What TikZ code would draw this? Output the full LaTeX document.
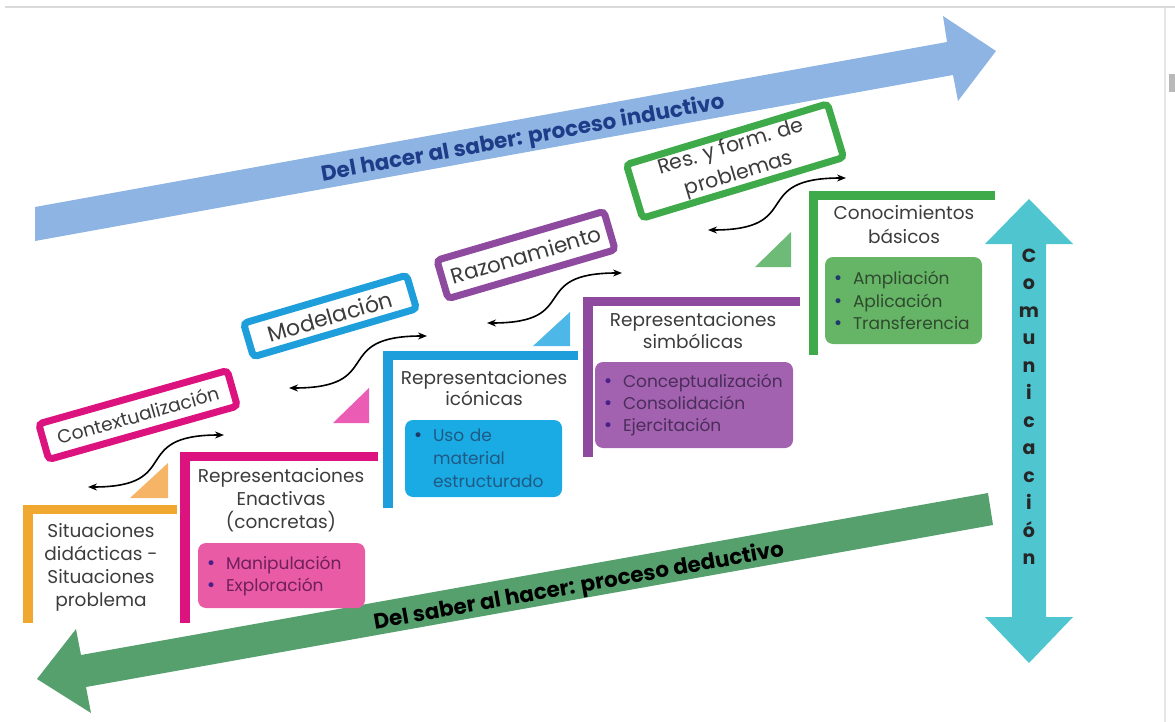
\documentclass[tikz,border=0pt]{standalone}
\usepackage{fontspec}
\setmainfont{Poppins}
\newfontfamily\dejavu{DejaVu Sans}
\usetikzlibrary{arrows.meta}
\definecolor{bluearrow}{HTML}{8EB4E3}
\definecolor{bluetext}{HTML}{1F3C88}
\definecolor{greenarrow}{HTML}{56A06E}
\definecolor{cyanarrow}{HTML}{4FC6CF}
\definecolor{orangestep}{HTML}{F0A830}
\definecolor{orangetri}{HTML}{F5B466}
\definecolor{magstep}{HTML}{DC137F}
\definecolor{pinktri}{HTML}{EB5CB4}
\definecolor{pinkbox}{HTML}{E95BA5}
\definecolor{bluestep}{HTML}{1E9FDC}
\definecolor{bluetri}{HTML}{4DB8E8}
\definecolor{bluebox}{HTML}{1AABE4}
\definecolor{purplestep}{HTML}{8E4A9E}
\definecolor{purplebox}{HTML}{A262B0}
\definecolor{greenstep}{HTML}{3FAA4A}
\definecolor{greentri}{HTML}{6DBB76}
\definecolor{greenbox}{HTML}{66B566}
\definecolor{txtgray}{HTML}{3C3C3C}
\definecolor{pinklist}{HTML}{6E1F5C}
\definecolor{bluelist}{HTML}{1F5A85}
\definecolor{purplelist}{HTML}{4B2D5A}
\definecolor{greenlist}{HTML}{2F4A2F}
\definecolor{bulpurple}{HTML}{4A1F8A}
\definecolor{bulnavy}{HTML}{1F3A6A}
\newcommand{\itm}[2]{\makebox[20pt][l]{\color{#1}\dejavu •}#2}
\newcommand{\noitm}[1]{\hspace*{20pt}#1}
\tikzset{
  rbox/.style={draw=#1, line width=7pt, rounded corners=4pt, fill=white,
    inner sep=0pt, text=txtgray, align=center},
  hdr/.style={align=center, text=txtgray, inner sep=0pt,
    font=\fontsize{18.5}{23}\selectfont},
  listbox/.style={fill=#1, rounded corners=8pt, inner xsep=8pt, inner ysep=0pt,
    align=left, font=\fontsize{17}{22}\selectfont},
  curv/.style={line width=1.6pt, {Stealth[length=9pt,width=7pt]}-{Stealth[length=9pt,width=7pt]}},
  arrowtext/.style={font=\bfseries\fontsize{21.5}{24}\selectfont, inner sep=0pt},
}
\begin{document}
\begin{tikzpicture}[x=1pt,y=-1pt]
\useasboundingbox (0,0) rectangle (1175,722);
% screenshot frame
\draw[gray!30, line width=2pt] (5,7) -- (1175,7);
\draw[gray!20, line width=1.5pt] (1165,8) -- (1165,722);
\fill[gray!55] (1169,74) rectangle (1175,92);

% inductive arrow
\fill[bluearrow] (35,207) -- (947,42) -- (943,16) -- (996,51) -- (958,101) -- (953,75) -- (35,241) -- cycle;
\node[arrowtext, rotate=10.24, text=bluetext] (ind) at (523,139) {Del hacer al saber: proceso inductivo};

% deductive arrow
\fill[greenarrow] (988,493) -- (81,655) -- (76,629) -- (37,679) -- (91,713) -- (86,687) -- (993,525) -- cycle;
\node[arrowtext, rotate=10.13, text=black] (ded) at (579,587) {Del saber al hacer: proceso deductivo};

% communication arrow
\fill[cyanarrow] (1029,199) -- (1073,244) -- (1046,244) -- (1046,617) -- (1073,617) -- (1029,663) -- (985,617) -- (1012,617) -- (1012,244) -- (985,244) -- cycle;
\node[align=center, text=black!85, font=\bfseries\fontsize{19}{27.5}\selectfont, inner sep=0pt] (com) at (1029,407)
  {C\\o\\m\\u\\n\\i\\c\\a\\c\\i\\ó\\n};

% steps
\fill[orangestep] (23,505) rectangle (177,514);
\fill[orangestep] (23,505) rectangle (33,623);
\fill[magstep] (180,452) rectangle (378,461);
\fill[magstep] (180,452) rectangle (190,623);
\fill[bluestep] (383,351) rectangle (578,360);
\fill[bluestep] (383,351) rectangle (393,508);
\fill[purplestep] (583,297) rectangle (800,306);
\fill[purplestep] (583,297) rectangle (593,457);
\fill[greenstep] (809,191) rectangle (995,200);
\fill[greenstep] (809,191) rectangle (818,355);

% triangles
\fill[orangetri] (130,498) -- (168,498) -- (168,463) -- cycle;
\fill[pinktri] (333,423) -- (369,423) -- (369,388) -- cycle;
\fill[bluetri] (533,346) -- (570,346) -- (570,312) -- cycle;
\fill[greentri] (755,267) -- (791,267) -- (791,232) -- cycle;

% step texts
\node[hdr] (s1t) at (101,567) {Situaciones\\didácticas -\\Situaciones\\problema};
\node[hdr] (s2t) at (281,500) {Representaciones\\Enactivas\\(concretas)};
\node[hdr, font=\fontsize{18.5}{21}\selectfont] (s3t) at (484,388) {Representaciones\\icónicas};
\node[hdr, font=\fontsize{18.5}{22}\selectfont] (s4t) at (693,331) {Representaciones\\simbólicas};
\node[hdr, font=\fontsize{18.5}{24}\selectfont] (s5t) at (904,225) {Conocimientos\\básicos};

% list boxes
\node[listbox=pinkbox, text=pinklist, minimum width=167pt, minimum height=65pt, text width=151pt] (s2b) at (281.5,575.5)
  {\itm{bulpurple}{Manipulación}\\\itm{bulpurple}{Exploración}};
\node[listbox=bluebox, text=bluelist, minimum width=157pt, minimum height=77pt, text width=141pt, font=\fontsize{17}{23}\selectfont] (s3b) at (483.5,458.5)
  {\itm{bulnavy}{Uso de}\\\noitm{material}\\\noitm{estructurado}};
\node[listbox=purplebox, text=purplelist, minimum width=198pt, minimum height=86pt, text width=182pt] (s4b) at (694,405)
  {\itm{bulpurple}{Conceptualización}\\\itm{bulpurple}{Consolidación}\\\itm{bulpurple}{Ejercitación}};
\node[listbox=greenbox, text=greenlist, minimum width=157pt, minimum height=87pt, text width=141pt, font=\fontsize{17}{22.5}\selectfont] (s5b) at (903.5,300.5)
  {\itm{bulnavy}{Ampliación}\\\itm{bulnavy}{Aplicación}\\\itm{bulnavy}{Transferencia}};

% rotated labels
\node[rbox=magstep, rotate=15.8, minimum width=196pt, minimum height=37pt, font=\fontsize{18.7}{22}\selectfont] (ctx) at (138,415) {Contextualización};
\node[rbox=bluestep, rotate=16.4, minimum width=170pt, minimum height=35pt, font=\fontsize{22}{24}\selectfont] (mod) at (330,316) {Modelación};
\node[rbox=purplestep, rotate=16.3, minimum width=174pt, minimum height=40pt, font=\fontsize{21.5}{24}\selectfont] (raz) at (526,255) {Razonamiento};
\node[rbox=greenstep, rotate=16.8, minimum width=210pt, minimum height=56pt, font=\fontsize{20.5}{28}\selectfont] (res) at (735,161) {Res. y form. de\\problemas};

% curved double arrows
\coordinate (a1l) at (88,487);  \coordinate (a1r) at (224,435);
\coordinate (a2l) at (289,388); \coordinate (a2r) at (427,336);
\coordinate (a3l) at (487,323); \coordinate (a3r) at (622,273);
\coordinate (a4l) at (708,230); \coordinate (a4r) at (846,178);
\draw[curv] (a1l) to[out=0, in=180, looseness=1.7] (a1r);
\draw[curv] (a2l) to[out=0, in=180, looseness=1.7] (a2r);
\draw[curv] (a3l) to[out=0, in=180, looseness=1.7] (a3r);
\draw[curv] (a4l) to[out=0, in=180, looseness=1.7] (a4r);
\end{tikzpicture}
\end{document}
